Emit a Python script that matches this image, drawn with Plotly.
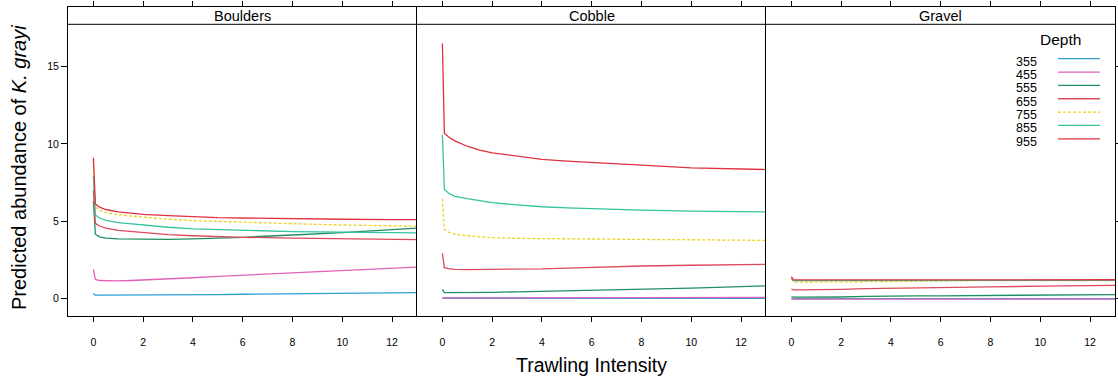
import plotly.graph_objects as go

# ---------------- data ----------------
panels = ["Boulders", "Cobble", "Gravel"]
depths = ["355", "455", "555", "655", "755", "855", "955"]
intensity = [0, 0.08, 0.25, 0.5, 1, 1.5, 2, 3, 4, 5, 6, 8, 10, 12, 13]

boulders = {
    "355": [0.30, 0.20, 0.20, 0.20, 0.20, 0.20, 0.20, 0.21, 0.22, 0.24, 0.26, 0.30, 0.33, 0.36, 0.37],
    "455": [1.87, 1.22, 1.15, 1.13, 1.13, 1.15, 1.18, 1.25, 1.33, 1.42, 1.50, 1.65, 1.80, 1.95, 2.02],
    "555": [6.30, 4.15, 3.98, 3.90, 3.85, 3.83, 3.82, 3.82, 3.85, 3.90, 3.95, 4.10, 4.25, 4.45, 4.55],
    "655": [7.00, 4.85, 4.68, 4.55, 4.40, 4.32, 4.25, 4.12, 4.05, 3.98, 3.95, 3.90, 3.85, 3.82, 3.80],
    "755": [8.80, 5.90, 5.70, 5.55, 5.40, 5.32, 5.25, 5.12, 5.03, 4.97, 4.93, 4.83, 4.75, 4.70, 4.67],
    "855": [7.90, 5.40, 5.20, 5.05, 4.90, 4.82, 4.75, 4.60, 4.50, 4.45, 4.40, 4.32, 4.28, 4.25, 4.24],
    "955": [9.10, 6.10, 5.90, 5.75, 5.60, 5.50, 5.43, 5.35, 5.28, 5.22, 5.20, 5.15, 5.12, 5.10, 5.10],
}
cobble = {
    "355": [0.00, 0.00, 0.00, 0.00, 0.00, 0.00, 0.00, 0.00, 0.00, 0.00, 0.00, 0.00, 0.00, 0.00, 0.00],
    "455": [0.02, 0.02, 0.02, 0.02, 0.02, 0.02, 0.02, 0.02, 0.02, 0.03, 0.05, 0.06, 0.06, 0.06, 0.06],
    "555": [0.58, 0.37, 0.37, 0.37, 0.37, 0.37, 0.38, 0.42, 0.45, 0.50, 0.53, 0.58, 0.66, 0.75, 0.80],
    "655": [2.91, 1.98, 1.92, 1.87, 1.86, 1.86, 1.86, 1.88, 1.90, 1.95, 2.00, 2.09, 2.14, 2.18, 2.20],
    "755": [6.45, 4.46, 4.28, 4.14, 4.05, 3.97, 3.92, 3.88, 3.86, 3.84, 3.83, 3.81, 3.79, 3.76, 3.75],
    "855": [10.6, 7.05, 6.80, 6.60, 6.45, 6.30, 6.19, 6.05, 5.93, 5.86, 5.80, 5.71, 5.65, 5.61, 5.60],
    "955": [16.5, 10.7, 10.45, 10.2, 9.85, 9.60, 9.42, 9.20, 9.00, 8.88, 8.78, 8.62, 8.45, 8.36, 8.34],
}
gravel = {
    "355": [-0.02, -0.02, -0.02, -0.02, -0.02, -0.02, -0.02, -0.02, -0.02, -0.02, -0.02, -0.02, -0.02, -0.02, -0.02],
    "455": [-0.05, -0.05, -0.05, -0.05, -0.05, -0.05, -0.05, -0.05, -0.05, -0.05, -0.05, -0.05, -0.05, -0.05, -0.05],
    "555": [0.10, 0.07, 0.07, 0.07, 0.07, 0.07, 0.08, 0.12, 0.15, 0.16, 0.16, 0.18, 0.23, 0.24, 0.24],
    "655": [0.60, 0.54, 0.54, 0.54, 0.55, 0.56, 0.58, 0.62, 0.65, 0.68, 0.70, 0.74, 0.78, 0.82, 0.84],
    "755": [1.25, 1.05, 1.05, 1.05, 1.05, 1.05, 1.05, 1.06, 1.08, 1.10, 1.12, 1.15, 1.15, 1.15, 1.15],
    "855": [1.30, 1.15, 1.14, 1.14, 1.14, 1.14, 1.14, 1.14, 1.14, 1.15, 1.15, 1.15, 1.16, 1.16, 1.16],
    "955": [1.40, 1.20, 1.19, 1.19, 1.18, 1.18, 1.18, 1.18, 1.18, 1.18, 1.18, 1.19, 1.19, 1.20, 1.20],
}
panel_data = [boulders, cobble, gravel]

x_ticks = [0, 2, 4, 6, 8, 10, 12]
y_ticks = [0, 5, 10, 15]

# ---------------- styles ----------------
colors = {
    "355": "#2e9fd2", "455": "#e062b8", "555": "#1f8f5f", "655": "#dc4a5c",
    "755": "#ecd21c", "855": "#36c3a0", "955": "#e0303f",
}
dashes = {d: "solid" for d in depths}
dashes["755"] = "3px,2px"

W, H = 1118, 383
FONT = "Liberation Sans, Arial, sans-serif"

def px_x(p):
    return p / W

def px_y(p):
    return 1 - p / H

panel_px = [(68, 417), (417, 766), (766, 1115)]
top_px, strip_bottom_px, bottom_px = 6.7, 24.3, 315.7
x_range = [-1.02, 13.0]
y_range = [-1.13, 18.89]

fig = go.Figure()

for i, (name, data) in enumerate(zip(panels, panel_data)):
    ax = "" if i == 0 else str(i + 1)
    for d in depths:
        fig.add_trace(go.Scatter(
            x=intensity, y=data[d], mode="lines",
            line=dict(color=colors[d], width=1.3, dash=dashes[d]),
            xaxis="x" + ax, yaxis="y" + ax, showlegend=False,
            hoverinfo="skip",
        ))
    x0, x1 = panel_px[i]
    fig.layout["xaxis" + ax] = dict(
        domain=[px_x(x0), px_x(x1)], range=x_range, anchor="y" + ax,
        tickvals=x_ticks, ticks="outside", ticklen=5, tickcolor="black",
        showline=True, linecolor="black", linewidth=1, mirror="ticks",
        showgrid=False, zeroline=False, ticklabelstandoff=12,
        tickfont=dict(family=FONT, size=10.5, color="black"),
    )
    ydict = dict(
        domain=[px_y(bottom_px), px_y(top_px)], range=y_range, anchor="x" + ax,
        tickvals=y_ticks, showline=True, linecolor="black", linewidth=1,
        mirror=False, showgrid=False, zeroline=False,
        tickfont=dict(family=FONT, size=10.5, color="black"),
    )
    if i == 0:
        ydict.update(ticks="outside", ticklen=6, tickcolor="black", showticklabels=True)
    elif i == 1:
        ydict.update(ticks="", showticklabels=False)
    else:
        ydict.update(ticks="outside", ticklen=5, tickcolor="black", mirror=True,
                     side="right", showticklabels=False)
    fig.layout["yaxis" + ax] = ydict

    # strip
    fig.add_shape(type="line", xref="paper", yref="paper",
                  x0=px_x(x0), x1=px_x(x1),
                  y0=px_y(strip_bottom_px), y1=px_y(strip_bottom_px),
                  line=dict(color="black", width=1))
    fig.add_annotation(text=name, xref="paper", yref="paper",
                       x=px_x((x0 + x1) / 2), y=px_y((top_px + strip_bottom_px) / 2),
                       showarrow=False, font=dict(family=FONT, size=14.5, color="black"),
                       xanchor="center", yanchor="middle")

# axis titles
fig.add_annotation(text="Predicted abundance of <i>K. grayi</i>", xref="paper", yref="paper",
                   x=px_x(19), y=px_y(168), textangle=-90, showarrow=False,
                   font=dict(family=FONT, size=20, color="black"),
                   xanchor="center", yanchor="middle")
fig.add_annotation(text="Trawling Intensity", xref="paper", yref="paper",
                   x=px_x(591), y=px_y(365), showarrow=False,
                   font=dict(family=FONT, size=19.5, color="black"),
                   xanchor="center", yanchor="middle")

# legend (lattice style: label then line key)
fig.add_annotation(text="Depth", xref="paper", yref="paper",
                   x=px_x(1060), y=px_y(40), showarrow=False,
                   font=dict(family=FONT, size=15.5, color="black"),
                   xanchor="center", yanchor="middle")
for k, d in enumerate(depths):
    yc = 61.7 + k * 13.35
    fig.add_annotation(text=d, xref="paper", yref="paper",
                       x=px_x(1039), y=px_y(yc), showarrow=False,
                       font=dict(family=FONT, size=12.5, color="black"),
                       xanchor="right", yanchor="middle")
    fig.add_shape(type="line", xref="paper", yref="paper",
                  x0=px_x(1058), x1=px_x(1100),
                  y0=px_y(yc - 3), y1=px_y(yc - 3),
                  line=dict(color=colors[d], width=1.3, dash=dashes[d]))

fig.update_layout(
    width=W, height=H, margin=dict(l=0, r=0, t=0, b=0),
    paper_bgcolor="white", plot_bgcolor="white", template="none",
    showlegend=False,
)

fig.write_html("out.html", config={"displayModeBar": False},
               post_script="document.body.style.margin='0px';document.body.style.overflow='hidden';")
